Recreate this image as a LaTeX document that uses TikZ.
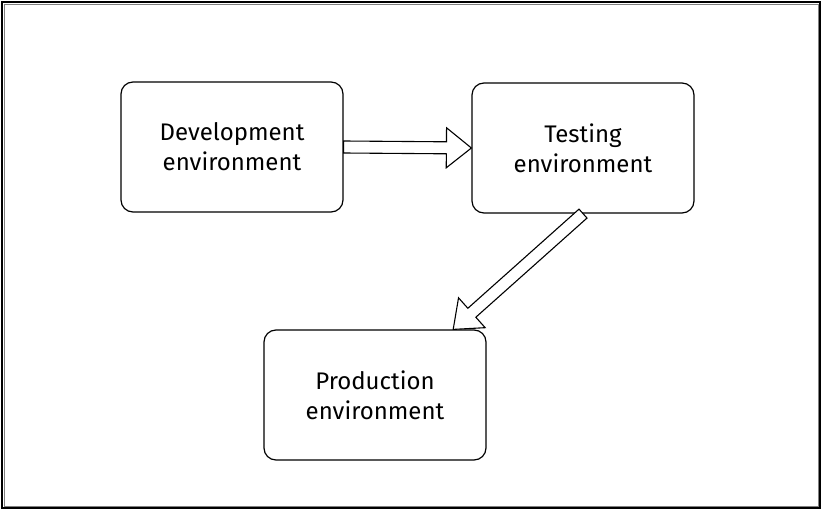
\documentclass[tikz,border=0pt]{standalone}
\usepackage{fontspec}
\setmainfont{Fira Sans}
\usepackage{tikz}
\usetikzlibrary{calc}

% hollow arrow from #1 to #2
\newcommand{\hollowarrow}[2]{
	\path ($(#2)!25pt!(#1)$) coordinate (h);
	\draw[arrowline] ($(#1)!6pt!90:(#2)$) -- ($(h)!6pt!-90:(#1)$) -- ($(h)!20pt!-90:(#1)$) -- (#2)
		-- ($(h)!20pt!90:(#1)$) -- ($(h)!6pt!90:(#1)$) -- ($(#1)!6pt!-90:(#2)$) -- cycle;
}

\begin{document}
\begin{tikzpicture}[x=1pt,y=-1pt]
	\tikzstyle{envbox}=[rectangle,rounded corners=12pt,draw=black,line width=1.2pt,minimum width=222pt,minimum height=130pt,align=center,font=\fontsize{24}{30}\selectfont]
	\tikzstyle{arrowline}=[draw=black,fill=white,line width=1.1pt,line join=miter]
	\fill[white] (0,0) rectangle (822,510);
	\draw[line width=1.4pt] (2,2) rectangle (820,508);
	\draw[line width=0.6pt,gray] (4,4.5) rectangle (818.5,506);
	\node[envbox] (dev) at (232,147) {Development\\environment};
	\node[envbox] (test) at (583,148) {Testing\\environment};
	\node[envbox] (prod) at (375,395) {Production\\environment};
	\hollowarrow{dev.east}{test.west}
	\hollowarrow{test.south}{prod.40}
\end{tikzpicture}
\end{document}
